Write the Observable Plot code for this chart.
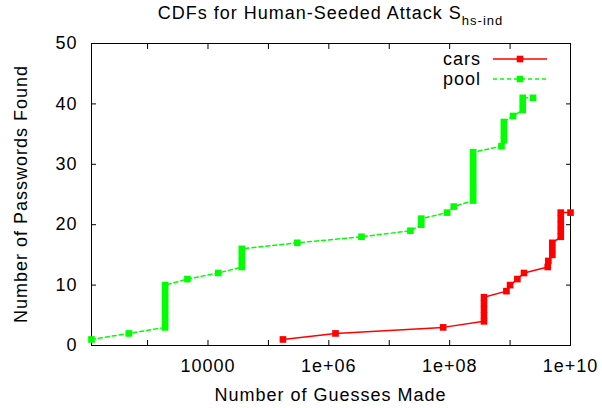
<!DOCTYPE html>
<html><head><meta charset="utf-8">
<script src="https://cdn.jsdelivr.net/npm/d3@7"></script>
<script src="https://cdn.jsdelivr.net/npm/@observablehq/plot@0.6"></script>
<style>
body{margin:0;background:#fff;}
</style></head><body><div id="chart"></div>
<script>
const carsGuesses = [1.74e5, 1.29e6, 7.8e7, 3.7e8, 3.7e8, 3.7e8, 3.7e8, 3.7e8, 8.7e8, 1.0e9, 1.32e9, 1.7e9, 4.2e9, 4.3e9, 5.0e9, 5.0e9, 5.0e9, 6.9e9, 6.9e9, 6.9e9, 6.9e9, 6.9e9, 1.0e10];
const carsFound   = [1, 2, 3, 4, 5, 6, 7, 8, 9, 10, 11, 12, 13, 14, 15, 16, 17, 18, 19, 20, 21, 22, 22];
const poolGuesses = [118, 490, 1950, 1950, 1950, 1950, 1950, 1950, 1950, 1950, 4570, 14800, 36300, 36300, 36300, 36300, 3.0e5, 3.47e6, 2.24e7, 3.39e7, 3.39e7, 9.1e7, 1.17e8, 2.45e8, 2.45e8, 2.45e8, 2.45e8, 2.45e8, 2.45e8, 2.45e8, 2.45e8, 2.45e8, 7.2e8, 7.9e8, 7.9e8, 7.9e8, 7.9e8, 1.12e9, 1.62e9, 1.62e9, 1.62e9, 2.4e9];
const poolFound   = [1, 2, 3, 4, 5, 6, 7, 8, 9, 10, 11, 12, 13, 14, 15, 16, 17, 18, 19, 20, 21, 22, 23, 24, 25, 26, 27, 28, 29, 30, 31, 32, 33, 34, 35, 36, 37, 38, 39, 40, 41, 41];
const xTickValues = [1e4, 1e6, 1e8, 1e10];
const xTickLabels = ["10000", "1e+06", "1e+08", "1e+10"];
const xMinorTicks = [1e3, 1e4, 1e5, 1e6, 1e7, 1e8, 1e9, 1e10];
const yTickValues = [0, 10, 20, 30, 40, 50];
const seriesNames = ["cars", "pool"];
const seriesColors = ["#ff0000", "#00ff00"];
const titleMain = "CDFs for Human-Seeded Attack S";
const titleSub = "hs-ind";
const xLabel = "Number of Guesses Made";
const yLabel = "Number of Passwords Found";

const cars = carsGuesses.map((x, i) => ({x, y: carsFound[i]}));
const pool = poolGuesses.map((x, i) => ({x, y: poolFound[i]}));

const W = 602, H = 408, mL = 91, mR = 32, mT = 43, mB = 63;
const FONT = '"Liberation Sans", Arial, Helvetica, sans-serif';

const chart = Plot.plot({
  width: W, height: H,
  marginLeft: mL, marginRight: mR, marginTop: mT, marginBottom: mB,
  style: {fontFamily: FONT, fontSize: "18px", color: "black", background: "white", letterSpacing: "1px"},
  x: {type: "log", domain: [118, 1e10]},
  y: {domain: [0, 50]},
  marks: [
    Plot.axisX({ticks: xTickValues, tickSize: 0, tickPadding: 14, tickFormat: d => xTickLabels[xTickValues.indexOf(d)], label: null, fontSize: 18}),
    Plot.axisX({ticks: xMinorTicks, anchor: "bottom", tickSize: -5, tickFormat: () => "", label: null}),
    Plot.axisX({ticks: xMinorTicks, anchor: "top", tickSize: -5, tickFormat: () => "", label: null}),
    Plot.axisY({ticks: yTickValues, tickSize: 0, tickPadding: 14, label: null, fontSize: 18}),
    Plot.axisY({ticks: yTickValues, anchor: "left", tickSize: -5, tickFormat: () => "", label: null}),
    Plot.axisY({ticks: yTickValues, anchor: "right", tickSize: -5, tickFormat: () => "", label: null}),
    Plot.frame({stroke: "black", strokeWidth: 1}),
    Plot.line(cars, {x: "x", y: "y", stroke: seriesColors[0], strokeWidth: 1.5}),
    Plot.dot(cars, {x: "x", y: "y", symbol: "square", r: 3.75, fill: seriesColors[0]}),
    Plot.line(pool, {x: "x", y: "y", stroke: seriesColors[1], strokeWidth: 1.5, strokeDasharray: "4,3"}),
    Plot.dot(pool, {x: "x", y: "y", symbol: "square", r: 3.75, fill: seriesColors[1]})
  ]
});
document.getElementById("chart").appendChild(chart);

const svg = d3.select(chart);
const cx = mL + (W - mL - mR) / 2;
// title
const t = svg.append("text").attr("x", cx).attr("y", 19).attr("text-anchor", "middle")
  .attr("font-family", FONT).attr("font-size", 18).attr("fill", "black").style("letter-spacing", "1px");
t.append("tspan").text(titleMain);
t.append("tspan").attr("dy", 6).attr("font-size", 13).text(titleSub);
// axis labels
svg.append("text").attr("x", cx).attr("y", 401).attr("text-anchor", "middle")
  .attr("font-family", FONT).attr("font-size", 18).attr("fill", "black").style("letter-spacing", "1px").text(xLabel);
svg.append("text").attr("transform", `translate(27,${mT + (H - mT - mB) / 2}) rotate(-90)`).attr("text-anchor", "middle")
  .attr("font-family", FONT).attr("font-size", 18).attr("fill", "black").style("letter-spacing", "1px").text(yLabel);
// legend
seriesNames.forEach((name, i) => {
  const ly = 59 + i * 20;
  svg.append("text").attr("x", 481).attr("y", ly + 6).attr("text-anchor", "end")
    .attr("font-family", FONT).attr("font-size", 18).attr("fill", "black").style("letter-spacing", "1px").text(name);
  svg.append("line").attr("x1", 493).attr("x2", 547).attr("y1", ly).attr("y2", ly)
    .attr("stroke", seriesColors[i]).attr("stroke-width", 1.5).attr("stroke-dasharray", i === 1 ? "4,3" : null);
  svg.append("rect").attr("x", 516.7).attr("y", ly - 3.3).attr("width", 6.6).attr("height", 6.6).attr("fill", seriesColors[i]);
});
</script></body></html>
